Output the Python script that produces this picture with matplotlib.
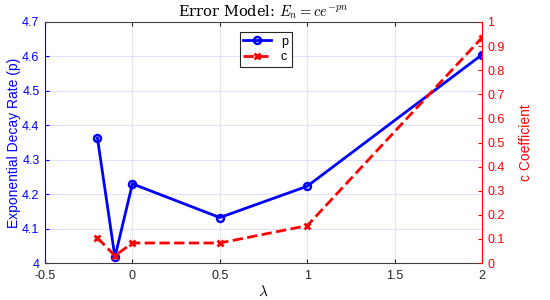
import matplotlib
matplotlib.use("Agg")
import matplotlib.pyplot as plt

lam = [-0.2, -0.1, 0.0, 0.5, 1.0, 2.0]
p_vals = [4.363, 4.017, 4.230, 4.132, 4.223, 4.605]
c_vals = [0.104, 0.030, 0.083, 0.083, 0.155, 0.935]

plt.rcParams['font.family'] = ['Liberation Sans', 'DejaVu Sans']
plt.rcParams['mathtext.fontset'] = 'cm'

fig = plt.figure(figsize=(5.5, 3.0), dpi=100)
ax = fig.add_axes([45/550, 1-263/300, (482-45)/550, (263-22)/300])
ax2 = ax.twinx()

blue = '#0000ff'
red = '#ff0000'

l1, = ax.plot(lam, p_vals, '-o', color=blue, lw=2, ms=5, mew=1.8, mfc='none', label='p')
l2, = ax2.plot(lam, c_vals, '--x', color=red, lw=2, ms=5, mew=2, label='c')

ax.set_xlim(-0.5, 2)
ax.set_ylim(4, 4.7)
ax2.set_ylim(0, 1)
ax.set_xticks([-0.5, 0, 0.5, 1, 1.5, 2])
ax.set_xticklabels(['-0.5', '0', '0.5', '1', '1.5', '2'])
ax.set_yticks([4, 4.1, 4.2, 4.3, 4.4, 4.5, 4.6, 4.7])
ax.set_yticklabels(['4', '4.1', '4.2', '4.3', '4.4', '4.5', '4.6', '4.7'])
ax2.set_yticks([i/10 for i in range(11)])
ax2.set_yticklabels(['0'] + [f'{i/10:.1f}' for i in range(1, 10)] + ['1'])

ax.xaxis.grid(True, color='#e6e6e6', lw=0.8)
ax.yaxis.grid(True, color='#e0e0ff', lw=0.8)
ax.set_axisbelow(True)

for sp in ['top', 'bottom']:
    ax.spines[sp].set_color('#404040')
    ax2.spines[sp].set_visible(False)
ax.spines['left'].set_color(blue)
ax.spines['right'].set_visible(False)
ax2.spines['right'].set_color(red)
ax2.spines['left'].set_visible(False)
ax.tick_params(axis='x', colors='#262626', labelsize=9, direction='in', length=3, top=True, pad=5)
ax.tick_params(axis='y', colors=blue, labelsize=9, direction='in', length=3, pad=4)
ax2.tick_params(axis='y', colors=red, labelsize=9, direction='in', length=3, pad=4)

ax.set_ylabel('Exponential Decay Rate (p)', color=blue, fontsize=10, labelpad=1)
ax2.set_ylabel('c Coefficient', color=red, fontsize=10, labelpad=10)
ax.set_xlabel(r'$\lambda$', fontsize=11, labelpad=2)
ax.set_title(r'Error Model: $E_n = ce^{-pn}$', fontsize=10.5, family='DejaVu Serif', pad=4)

leg = ax2.legend(handles=[l1, l2], loc='upper center', bbox_to_anchor=(0.505, 0.985),
                 fontsize=9, fancybox=False, edgecolor='#262626', framealpha=1,
                 handlelength=2.2, borderpad=0.3, labelspacing=0.3)
leg.get_frame().set_linewidth(0.8)

fig.savefig('out.png', dpi=100)
